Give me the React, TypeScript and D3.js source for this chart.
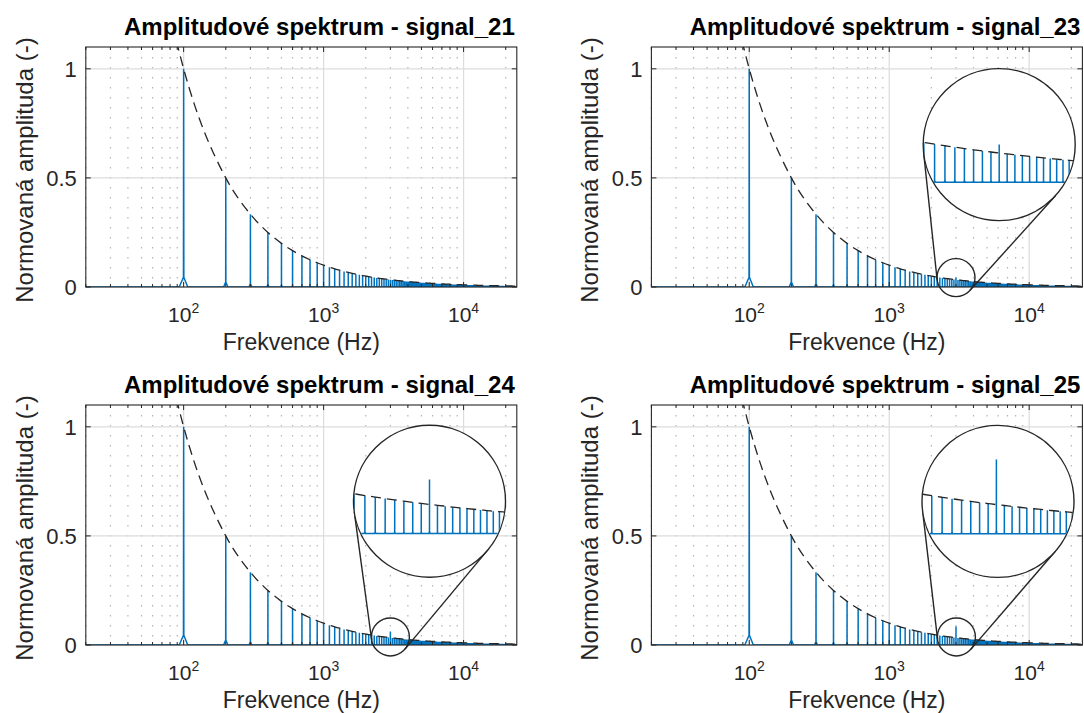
import React from 'react';
import * as d3 from 'd3';

// ---------------- data ----------------
const FUNDAMENTAL_HZ = 100;
// amplitude of harmonic n (n = 1..240), read along the 1/n envelope
const harmonicAmps: number[] = [
  1, 0.5, 0.3333, 0.25, 0.2, 0.1667, 0.1429, 0.125, 0.1111, 0.1,
  0.0909, 0.0833, 0.0769, 0.0714, 0.0667, 0.0625, 0.0588, 0.0556, 0.0526, 0.05,
  0.0476, 0.0455, 0.0435, 0.0417, 0.04, 0.0385, 0.037, 0.0357, 0.0345, 0.0333,
  0.0323, 0.0313, 0.0303, 0.0294, 0.0286, 0.0278, 0.027, 0.0263, 0.0256, 0.025,
  0.0244, 0.0238, 0.0233, 0.0227, 0.0222, 0.0217, 0.0213, 0.0208, 0.0204, 0.02,
  0.0196, 0.0192, 0.0189, 0.0185, 0.0182, 0.0179, 0.0175, 0.0172, 0.0169, 0.0167,
  0.0164, 0.0161, 0.0159, 0.0156, 0.0154, 0.0152, 0.0149, 0.0147, 0.0145, 0.0143,
  0.0141, 0.0139, 0.0137, 0.0135, 0.0133, 0.0132, 0.013, 0.0128, 0.0127, 0.0125,
  0.0123, 0.0122, 0.012, 0.0119, 0.0118, 0.0116, 0.0115, 0.0114, 0.0112, 0.0111,
  0.011, 0.0109, 0.0108, 0.0106, 0.0105, 0.0104, 0.0103, 0.0102, 0.0101, 0.01,
  0.0099, 0.0098, 0.0097, 0.0096, 0.0095, 0.0094, 0.0093, 0.0093, 0.0092, 0.0091,
  0.009, 0.0089, 0.0088, 0.0088, 0.0087, 0.0086, 0.0085, 0.0085, 0.0084, 0.0083,
  0.0083, 0.0082, 0.0081, 0.0081, 0.008, 0.0079, 0.0079, 0.0078, 0.0078, 0.0077,
  0.0076, 0.0076, 0.0075, 0.0075, 0.0074, 0.0074, 0.0073, 0.0072, 0.0072, 0.0071,
  0.0071, 0.007, 0.007, 0.0069, 0.0069, 0.0068, 0.0068, 0.0068, 0.0067, 0.0067,
  0.0066, 0.0066, 0.0065, 0.0065, 0.0065, 0.0064, 0.0064, 0.0063, 0.0063, 0.0063,
  0.0062, 0.0062, 0.0061, 0.0061, 0.0061, 0.006, 0.006, 0.006, 0.0059, 0.0059,
  0.0058, 0.0058, 0.0058, 0.0057, 0.0057, 0.0057, 0.0056, 0.0056, 0.0056, 0.0056,
  0.0055, 0.0055, 0.0055, 0.0054, 0.0054, 0.0054, 0.0053, 0.0053, 0.0053, 0.0053,
  0.0052, 0.0052, 0.0052, 0.0052, 0.0051, 0.0051, 0.0051, 0.0051, 0.005, 0.005,
  0.005, 0.005, 0.0049, 0.0049, 0.0049, 0.0049, 0.0048, 0.0048, 0.0048, 0.0048,
  0.0047, 0.0047, 0.0047, 0.0047, 0.0047, 0.0046, 0.0046, 0.0046, 0.0046, 0.0045,
  0.0045, 0.0045, 0.0045, 0.0045, 0.0044, 0.0044, 0.0044, 0.0044, 0.0044, 0.0043,
  0.0043, 0.0043, 0.0043, 0.0043, 0.0043, 0.0042, 0.0042, 0.0042, 0.0042, 0.0042,
];
const signalNames = ['signal_21', 'signal_23', 'signal_24', 'signal_25'];
const anomalyHz = 3000;
const anomalyAmps: (number | null)[] = [null, 0.043, 0.062, 0.085];
const zoomFocusHz: (number | null)[] = [null, 3000, 3000, 3020];
const zoomFocusAmp: (number | null)[] = [null, 0.043, 0.037, 0.037];
const xTickValues = [100, 1000, 10000];
const xTickExponents = ['2', '3', '4'];
const yTickValues = [0, 0.5, 1];
const yTickLabels = ['0', '0.5', '1'];
const xDomain: [number, number] = [20, 24000];
const yDomain: [number, number] = [0, 1.1];
const envelopeTop = { f: 83.33, a: 1.2 };
const titlePrefix = 'Amplitudové spektrum - ';
const xLabelText = 'Frekvence (Hz)';
const yLabelText = 'Normovaná amplituda (-)';

// ---------------- layout / style ----------------
const W = 1084;
const H = 713;
const colX = [85.8, 651.4];
const rowY = [47, 405];
const PW = 431;
const PH = 240;
const insetPos: ({ cx: number; cy: number } | null)[] = [
  null,
  { cx: 347.8, cy: 97.6 },
  { cx: 343.7, cy: 96.2 },
  { cx: 346.6, cy: 96.4 },
];
const BIG_R = 76;
const MAG = 4;
const LOBE_HZ = 7;
const LOBE_INNER_HZ = 0.3;
const LOBE_REL = 0.045;
const BLUE = '#0072BD';
const AXIS = '#262626';
const FONT = "'Liberation Sans', Arial, Helvetica, sans-serif";

function spectrumPoints(idx: number): [number, number][] {
  const pts: [number, number][] = [[xDomain[0] * 0.9, 0]];
  harmonicAmps.forEach((amp, i) => {
    const f = FUNDAMENTAL_HZ * (i + 1);
    const an = anomalyAmps[idx];
    const a = an != null && f === anomalyHz ? an : amp;
    pts.push(
      [f - LOBE_HZ, 0],
      [f - LOBE_INNER_HZ, a * LOBE_REL],
      [f, a],
      [f + LOBE_INNER_HZ, a * LOBE_REL],
      [f + LOBE_HZ, 0]
    );
  });
  pts.push([xDomain[1] * 1.1, 0]);
  return pts;
}

function envelopePoints(): [number, number][] {
  const pts: [number, number][] = [[envelopeTop.f, envelopeTop.a]];
  harmonicAmps.forEach((amp, i) => pts.push([FUNDAMENTAL_HZ * (i + 1), amp]));
  return pts;
}

function tangents(c1: { x: number; y: number }, r1: number, c2: { x: number; y: number }, r2: number) {
  const dx = c2.x - c1.x;
  const dy = c2.y - c1.y;
  const d = Math.hypot(dx, dy);
  const ux = dx / d;
  const uy = dy / d;
  const c = (r1 - r2) / d;
  const s = Math.sqrt(Math.max(0, 1 - c * c));
  return [1, -1].map((sg) => {
    const nx = ux * c - sg * uy * s;
    const ny = uy * c + sg * ux * s;
    return { x1: c1.x + r1 * nx, y1: c1.y + r1 * ny, x2: c2.x + r2 * nx, y2: c2.y + r2 * ny };
  });
}

const minorTicks: number[] = [];
[10, 100, 1000, 10000].forEach((dec) => {
  for (let m = 2; m <= 9; m++) {
    const v = dec * m;
    if (v >= xDomain[0] && v <= xDomain[1]) minorTicks.push(v);
  }
});

function Panel({ idx }: { idx: number }) {
  const col = idx % 2;
  const row = Math.floor(idx / 2);
  const left = colX[col];
  const top = rowY[row];
  const x = d3.scaleLog().domain(xDomain).range([0, PW]);
  const y = d3.scaleLinear().domain(yDomain).range([PH, 0]);
  const spec = spectrumPoints(idx);
  const env = envelopePoints();
  const line = d3
    .line<[number, number]>()
    .x((d) => x(d[0]))
    .y((d) => y(d[1]));
  const envLine = d3
    .line<[number, number]>()
    .x((d) => x(d[0]))
    .y((d) => y(d[1]))
    .curve(d3.curveMonotoneX);
  const clipId = `clip-${idx}`;

  let inset: React.ReactNode = null;
  const ip = insetPos[idx];
  const fHz = zoomFocusHz[idx];
  const fA = zoomFocusAmp[idx];
  if (ip && fHz != null && fA != null) {
    const scx = x(fHz);
    const scy = y(fA);
    const sr = BIG_R / MAG;
    const tx = (px: number) => ip.cx + MAG * (px - scx);
    const ty = (py: number) => ip.cy + MAG * (py - scy);
    const insetLine = d3
      .line<[number, number]>()
      .x((d) => tx(x(d[0])))
      .y((d) => ty(y(d[1])));
    const insetEnv = d3
      .line<[number, number]>()
      .x((d) => tx(x(d[0])))
      .y((d) => ty(y(d[1])))
      .curve(d3.curveMonotoneX);
    const near = (f: number) => f > fHz * 0.5 && f < fHz * 2;
    const specNear = spec.filter((p) => near(p[0]));
    const envNear = env.filter((p) => near(p[0]));
    const tl = tangents({ x: scx, y: scy }, sr, { x: ip.cx, y: ip.cy }, BIG_R);
    const insetClip = `inset-clip-${idx}`;
    inset = (
      <g>
        <defs>
          <clipPath id={insetClip}>
            <circle cx={ip.cx} cy={ip.cy} r={BIG_R - 0.5} />
          </clipPath>
        </defs>
        <circle cx={scx} cy={scy} r={sr} fill="none" stroke="#262626" strokeWidth={1.4} />
        {tl.map((t, i) => (
          <line key={i} x1={t.x1} y1={t.y1} x2={t.x2} y2={t.y2} stroke="#262626" strokeWidth={1.4} />
        ))}
        <circle cx={ip.cx} cy={ip.cy} r={BIG_R} fill="#ffffff" stroke="none" />
        <g clipPath={`url(#${insetClip})`}>
          <path d={insetLine(specNear) || ''} fill="none" stroke={BLUE} strokeWidth={1.5} />
          <path
            d={insetEnv(envNear) || ''}
            fill="none"
            stroke="#262626"
            strokeWidth={1.3}
            strokeDasharray="10 6"
          />
        </g>
        <circle cx={ip.cx} cy={ip.cy} r={BIG_R} fill="none" stroke="#262626" strokeWidth={1.4} />
      </g>
    );
  }

  return (
    <g transform={`translate(${left},${top})`} fontFamily={FONT}>
      <defs>
        <clipPath id={clipId}>
          <rect x={0} y={0} width={PW} height={PH} />
        </clipPath>
      </defs>
      <rect x={0} y={0} width={PW} height={PH} fill="#ffffff" />
      {/* minor x grid */}
      {minorTicks.map((v) => (
        <line
          key={`mg${v}`}
          x1={x(v)}
          x2={x(v)}
          y1={0}
          y2={PH}
          stroke="#b4b4b4"
          strokeWidth={1.2}
          strokeDasharray="1.5 8.5"
        />
      ))}
      {/* major grid */}
      {xTickValues.map((v) => (
        <line key={`gx${v}`} x1={x(v)} x2={x(v)} y1={0} y2={PH} stroke="#dcdcdc" strokeWidth={1.2} />
      ))}
      {yTickValues.map((v) => (
        <line key={`gy${v}`} x1={0} x2={PW} y1={y(v)} y2={y(v)} stroke="#dcdcdc" strokeWidth={1.2} />
      ))}
      <g clipPath={`url(#${clipId})`}>
        <path d={line(spec) || ''} fill="none" stroke={BLUE} strokeWidth={1.5} />
        <path d={envLine(env) || ''} fill="none" stroke="#262626" strokeWidth={1.3} strokeDasharray="10 6" />
      </g>
      {/* box and ticks */}
      <rect x={0} y={0} width={PW} height={PH} fill="none" stroke={AXIS} strokeWidth={1.1} />
      {xTickValues.map((v) => (
        <g key={`tx${v}`}>
          <line x1={x(v)} x2={x(v)} y1={PH} y2={PH - 5} stroke={AXIS} />
          <line x1={x(v)} x2={x(v)} y1={0} y2={5} stroke={AXIS} />
        </g>
      ))}
      {minorTicks.map((v) => (
        <g key={`mt${v}`}>
          <line x1={x(v)} x2={x(v)} y1={PH} y2={PH - 3} stroke={AXIS} />
          <line x1={x(v)} x2={x(v)} y1={0} y2={3} stroke={AXIS} />
        </g>
      ))}
      {yTickValues.map((v) => (
        <g key={`ty${v}`}>
          <line x1={0} x2={5} y1={y(v)} y2={y(v)} stroke={AXIS} />
          <line x1={PW} x2={PW - 5} y1={y(v)} y2={y(v)} stroke={AXIS} />
        </g>
      ))}
      {/* tick labels */}
      {yTickValues.map((v, i) => (
        <text key={`yl${v}`} x={-9} y={y(v)} dy="0.36em" textAnchor="end" fontSize={22} fill="#262626">
          {yTickLabels[i]}
        </text>
      ))}
      {xTickValues.map((v, i) => (
        <text key={`xl${v}`} x={x(v)} y={PH + 34.5} textAnchor="middle" fontSize={21} fill="#262626">
          10
          <tspan fontSize={14} dy={-8.5}>
            {xTickExponents[i]}
          </tspan>
        </text>
      ))}
      {/* labels */}
      <text x={PW / 2} y={PH + 63} textAnchor="middle" fontSize={23} fill="#262626">
        {xLabelText}
      </text>
      <text
        transform={`translate(${-53},${PH / 2 + 3}) rotate(-90)`}
        textAnchor="middle"
        fontSize={24}
        fill="#262626"
      >
        {yLabelText}
      </text>
      <text x={PW - 2} y={-12} textAnchor="end" fontSize={24} fontWeight="bold" fill="#000000">
        {titlePrefix + signalNames[idx]}
      </text>
      {inset}
    </g>
  );
}

export default function App() {
  return (
    <svg
      width={W}
      height={H}
      viewBox={`0 0 ${W} ${H}`}
      style={{ position: 'absolute', left: 0, top: 0, background: '#ffffff' }}
    >
      <rect x={0} y={0} width={W} height={H} fill="#ffffff" />
      {signalNames.map((_, i) => (
        <Panel key={i} idx={i} />
      ))}
    </svg>
  );
}
